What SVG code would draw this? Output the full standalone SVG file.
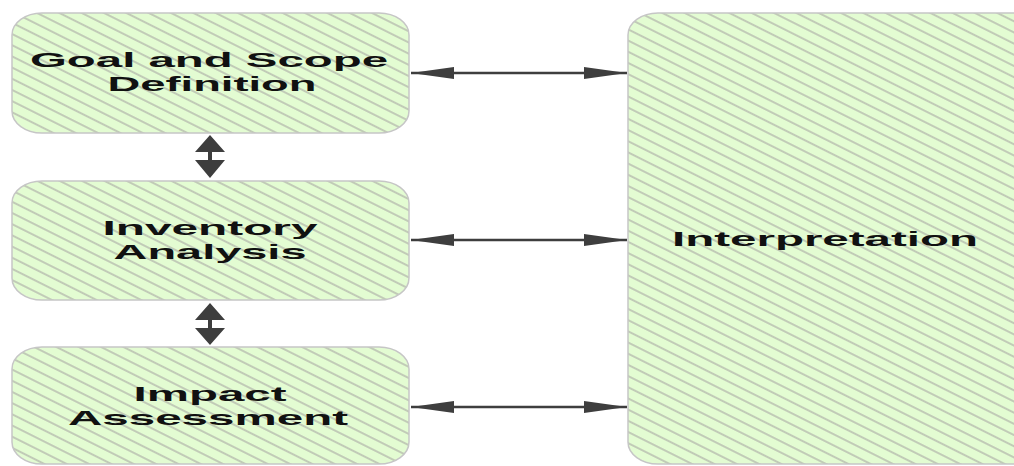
<svg xmlns="http://www.w3.org/2000/svg" width="1014" height="466" viewBox="0 0 1014 466">
  <defs>
    <pattern id="hatch" patternUnits="userSpaceOnUse" width="10" height="10" patternTransform="rotate(26.6)">
      <rect width="10" height="10" fill="#e3fcd2"/>
      <line x1="0" y1="5" x2="10" y2="5" stroke="#b2b6ac" stroke-width="1.4"/>
    </pattern>
    <marker id="ah" viewBox="0 0 43 12" refX="43" refY="6" markerWidth="43" markerHeight="12" markerUnits="userSpaceOnUse" orient="auto-start-reverse">
      <path d="M0,0 L43,6 L0,12 Z" fill="#3e3e3e"/>
    </marker>
    <style>
      .box { fill: url(#hatch); stroke: #c6c6c6; stroke-width: 1.5; }
      .lbl { font-family: "Liberation Sans", Arial, sans-serif; font-weight: bold; font-size: 21px; fill: #111; text-anchor: middle; }
      .conn { stroke: #3e3e3e; stroke-width: 2.5; fill: none; }
      .fat { fill: #3e3e3e; }
    </style>
  </defs>

  <g id="interpretation">
    <rect class="box" x="628" y="13" width="430" height="451" rx="30" ry="22"/>
    <text class="lbl" x="825" y="246" textLength="306" lengthAdjust="spacingAndGlyphs">Interpretation</text>
  </g>

  <g id="goal">
    <rect class="box" x="12" y="13" width="397" height="120" rx="30" ry="22"/>
    <text class="lbl" x="209" y="67" textLength="358" lengthAdjust="spacingAndGlyphs">Goal and Scope</text>
    <text class="lbl" x="212" y="91" textLength="209" lengthAdjust="spacingAndGlyphs">Definition</text>
  </g>

  <g id="inventory">
    <rect class="box" x="12" y="181" width="397" height="119" rx="30" ry="22"/>
    <text class="lbl" x="210" y="235" textLength="215" lengthAdjust="spacingAndGlyphs">Inventory</text>
    <text class="lbl" x="210" y="259" textLength="193" lengthAdjust="spacingAndGlyphs">Analysis</text>
  </g>

  <g id="impact">
    <rect class="box" x="12" y="347" width="397" height="117" rx="30" ry="22"/>
    <text class="lbl" x="210" y="401" textLength="153" lengthAdjust="spacingAndGlyphs">Impact</text>
    <text class="lbl" x="208" y="425" textLength="280" lengthAdjust="spacingAndGlyphs">Assessment</text>
  </g>

  <g id="connectors">
    <line class="conn" x1="411" y1="73" x2="627" y2="73" marker-start="url(#ah)" marker-end="url(#ah)"/>
    <line class="conn" x1="411" y1="240" x2="627" y2="240" marker-start="url(#ah)" marker-end="url(#ah)"/>
    <line class="conn" x1="411" y1="407" x2="627" y2="407" marker-start="url(#ah)" marker-end="url(#ah)"/>
    <path class="fat" d="M195,152 L210,135 L225,152 Z M208,151 L212,151 L212,161 L208,161 Z M195,160 L225,160 L210,178 Z"/>
    <path class="fat" d="M195,320 L210,303 L225,320 Z M208,319 L212,319 L212,329 L208,329 Z M195,328 L225,328 L210,345 Z"/>
  </g>
</svg>
